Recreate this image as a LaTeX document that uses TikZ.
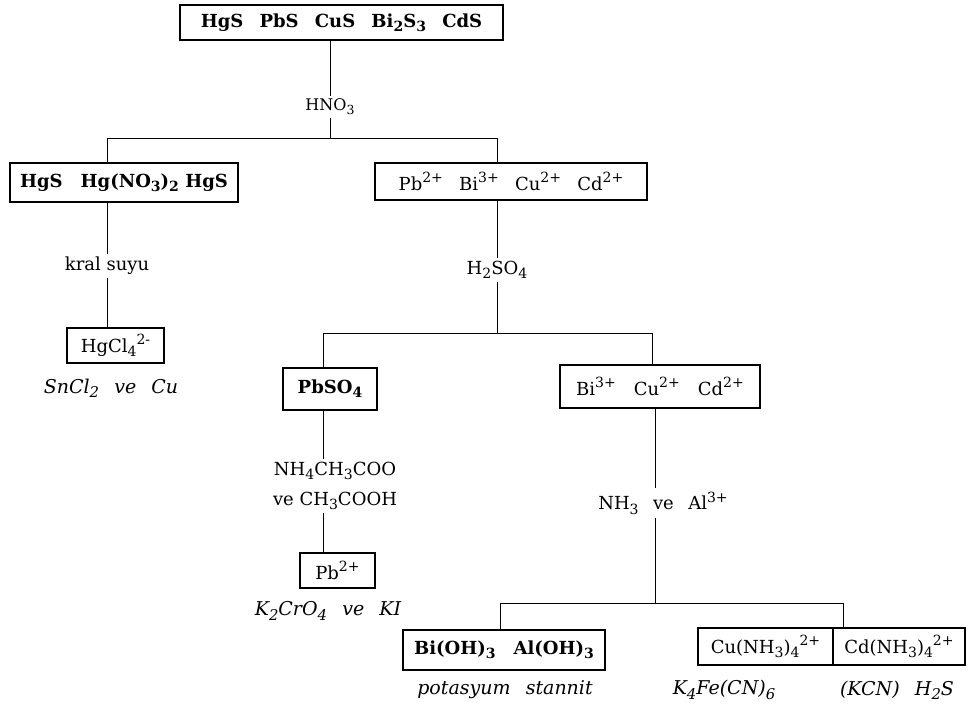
\documentclass[tikz,border=0pt]{standalone}
\usepackage{fontspec}
\setmainfont{DejaVu Serif}
\newcommand{\sbs}[1]{\raisebox{-0.45ex}{\scalebox{0.78}{#1}}}
\newcommand{\sps}[1]{\raisebox{0.85ex}{\scalebox{0.78}{#1}}}
\newcommand{\gap}{\hspace{0.8em}}
\begin{document}
\begin{tikzpicture}[x=1pt,y=-1pt,
  every node/.style={font=\fontsize{18}{22}\selectfont},
  box/.style={draw,line width=1.2pt,inner sep=0pt,minimum height=36pt},
  bbox/.style={box,font=\fontsize{18}{22}\selectfont\bfseries},
  lab/.style={inner sep=3pt},
  note/.style={inner sep=2pt,font=\fontsize{19}{22}\selectfont\itshape},
  conn/.style={line width=1pt}]
\useasboundingbox (0,0) rectangle (970,705);
% boxes
\node[bbox,minimum width=323pt,minimum height=35pt] (top) at (341.5,22.5)
  {HgS\hspace{0.9em}PbS\hspace{0.9em}CuS\hspace{0.9em}Bi\sbs{2}S\sbs{3}\hspace{0.9em}CdS};
\node[lab,font=\fontsize{16}{20}\selectfont] (hno3) at (330,107) {HNO\sbs{3}};
\coordinate (j1) at (330,138);
\coordinate (jL) at (107,138);
\coordinate (jR) at (497,138);
\node[bbox,minimum width=228pt,minimum height=39pt] (hgs) at (124,182.5)
  {HgS\hspace{1em}Hg(NO\sbs{3})\sbs{2} HgS};
\node[box,minimum width=272pt,minimum height=37pt] (pbb) at (511,181.5)
  {Pb\sps{2+}\hspace{0.9em}Bi\sps{3+}\hspace{0.9em}Cu\sps{2+}\hspace{0.9em}Cd\sps{2+}\hspace{2em}};
\node[lab] (kral) at (107,266) {kral suyu};
\node[box,minimum width=97pt,minimum height=35pt] (hgcl) at (115.5,345.5) {HgCl\sbs{4}\sps{2-}};
\node[note] (sncl) at (111,388) {SnCl\sbs{2}\gap ve\gap Cu};
\node[lab] (h2so4) at (497,270) {H\sbs{2}SO\sbs{4}};
\coordinate (j2) at (497,333);
\coordinate (j2L) at (323,333);
\coordinate (j2R) at (652,333);
\node[bbox,minimum width=94pt,minimum height=42pt] (pbso) at (330,389) {PbSO\sbs{4}};
\node[box,minimum width=200pt,minimum height=43pt] (bcc) at (660,386.5)
  {Bi\sps{3+}\hspace{1em}Cu\sps{2+}\hspace{1em}Cd\sps{2+}};
\node[lab,align=center,font=\fontsize{18}{30}\selectfont] (nh4) at (335,486) {NH\sbs{4}CH\sbs{3}COO\\ve\ CH\sbs{3}COOH};
\node[box,minimum width=75pt,minimum height=35pt] (pb2) at (337.5,570.5) {Pb\sps{2+}};
\node[note] (k2cr) at (328,611) {K\sbs{2}CrO\sbs{4}\gap ve\gap KI};
\node[lab] (nh3) at (663,503) {NH\sbs{3}\gap ve\gap Al\sps{3+}};
\coordinate (j3) at (655,603);
\coordinate (j3L) at (500,603);
\coordinate (j3R) at (843,603);
\node[bbox,minimum width=202pt,minimum height=40pt] (bioh) at (504,650)
  {Bi(OH)\sbs{3}\hspace{1em}Al(OH)\sbs{3}};
\node[box,minimum width=135pt,minimum height=37pt] (cu) at (765.5,646.5) {Cu(NH\sbs{3})\sbs{4}\sps{2+}};
\node[box,minimum width=132pt,minimum height=37pt] (cd) at (899,646.5) {Cd(NH\sbs{3})\sbs{4}\sps{2+}};
\node[note] (pots) at (505,690) {potasyum\gap stannit};
\node[note] (k4fe) at (724,690) {K\sbs{4}Fe(CN)\sbs{6}};
\node[note] (kcn) at (897,690) {(KCN)\gap H\sbs{2}S};
% connectors
\draw[conn] (top.south -| j1) -- (hno3);
\draw[conn] (hno3) -- (j1);
\draw[conn] (jL) -- (jR);
\draw[conn] (jL) -- (hgs.north -| jL);
\draw[conn] (jR) -- (pbb.north -| jR);
\draw[conn] (hgs.south -| jL) -- (kral);
\draw[conn] (kral) -- (hgcl.north -| kral);
\draw[conn] (pbb.south -| jR) -- (h2so4);
\draw[conn] (h2so4) -- (j2);
\draw[conn] (j2L) -- (j2R);
\draw[conn] (j2L) -- (pbso.north -| j2L);
\draw[conn] (j2R) -- (bcc.north -| j2R);
\draw[conn] (pbso.south -| j2L) -- (nh4.north -| j2L);
\draw[conn] (nh4.south -| j2L) -- (pb2.north -| j2L);
\draw[conn] (bcc.south -| j3) -- (nh3.north -| j3);
\draw[conn] (nh3.south -| j3) -- (j3);
\draw[conn] (j3L) -- (j3R);
\draw[conn] (j3L) -- (bioh.north -| j3L);
\draw[conn] (j3R) -- (cu.north -| j3R);
\end{tikzpicture}
\end{document}
